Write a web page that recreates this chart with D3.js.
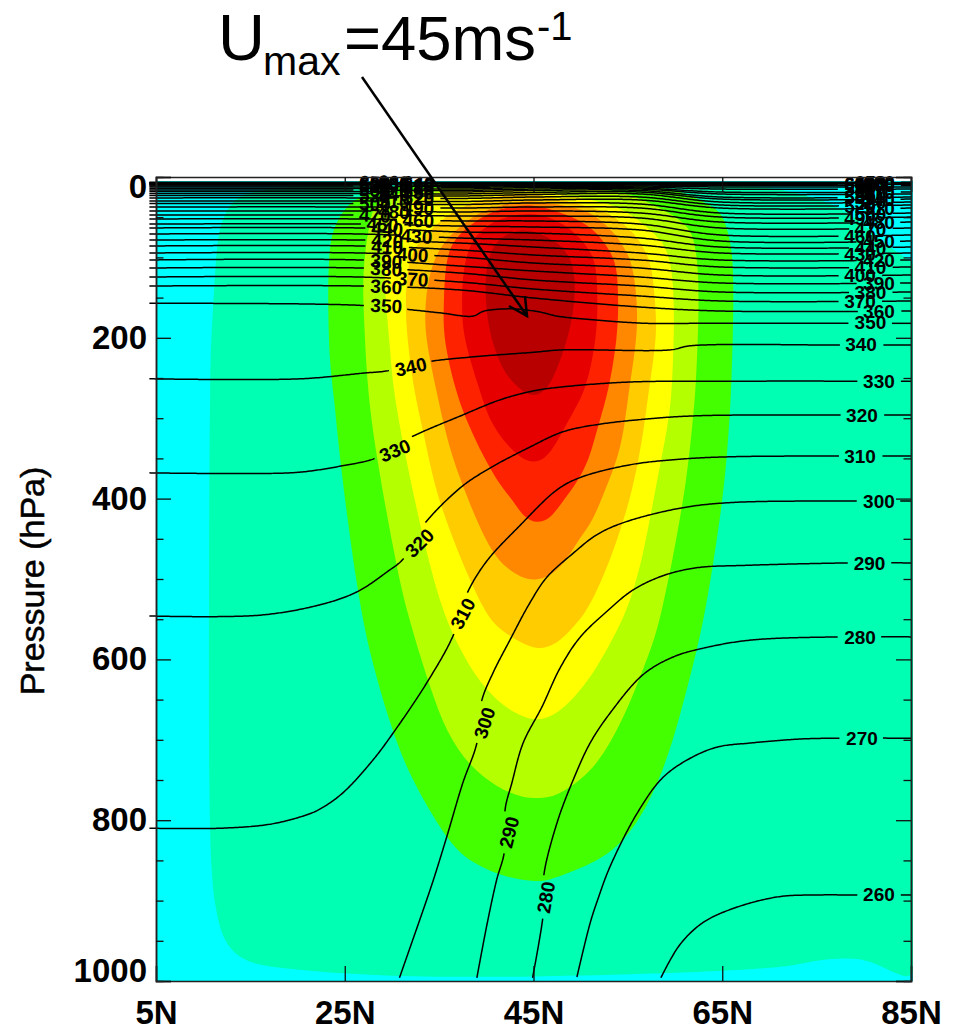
<!DOCTYPE html>
<html>
<head>
<meta charset="utf-8">
<script src="https://cdn.jsdelivr.net/npm/d3@7"></script>
<style>
body { margin: 0; background: #fff; }
text { font-family: "Liberation Sans", Arial, sans-serif; fill: #000; }
</style>
</head>
<body>
<div id="chart"></div>
<script>
// ticks
var latTicks = [5, 25, 45, 65, 85];
var pressureTicks = [0, 200, 400, 600, 800, 1000];
var pressureMinor = [50, 100, 150, 250, 300, 350, 450, 500, 550, 650, 700, 750, 850, 900, 950];

// wind speed bands, [lat, hPa] outlines
var bandColors = ["#00ffb2", "#44ff00", "#b4ff00", "#ffff00", "#ffcc00", "#ff8800", "#ff2200", "#e60000", "#b80000"];
var band1 = [[25.6,6],[20.3,11],[16.2,16],[13.9,22],[12.5,39],[11.6,68],[11.3,109],[11,172],[10.7,234],[10.6,526],[10.6,775],[10.9,874],[11.3,908],[11.8,937],[12.8,961],[14.6,976],[17.1,983],[24.8,991],[32.7,995],[45,995],[58.4,991],[71.9,984],[74.3,975],[78.2,971],[80.4,974],[82.1,983],[84.1,995],[86.5,997],[86.5,600],[86.5,125],[85.2,106],[83.1,91],[80.7,66],[77.3,35],[72.2,16],[64.8,6]];
var band2 = [[30.9,6],[26.9,22],[25.2,35],[23.6,66],[23.3,103],[23.2,153],[23.4,234],[23.8,265],[24.5,356],[26.3,514],[27.7,597],[30,688],[31.9,746],[35.8,825],[38.3,853],[42.2,872],[45,876],[46.4,876],[49.6,862],[53.4,841],[56.3,800],[58.7,741],[60.5,672],[62.4,585],[63.2,539],[64,485],[65,405],[65.5,348],[66,265],[66.3,116],[65.8,75],[65,45],[63.7,35],[61.3,20],[56.6,6]];
var band3 = [[33,9],[28.2,29],[27.7,53],[26.8,116],[27.1,190],[27.4,265],[28.4,352],[30.3,473],[31.5,539],[34,634],[35.8,692],[38.3,734],[41.1,759],[43.6,771],[45,773],[46.8,772],[48.6,762],[51.7,734],[54.5,675],[56.6,613],[57.9,572],[58.6,539],[59.8,473],[61.3,373],[61.9,299],[62.2,265],[62.6,149],[62.3,91],[61.6,62],[59.5,45],[56.3,26],[52.1,11]];
var band4 = [[35.1,16],[30.9,35],[29.6,53],[29.1,95],[29.3,153],[29.8,211],[30.1,265],[31.7,364],[33.5,460],[35.3,539],[37.2,588],[39.3,629],[41.8,659],[44.3,674],[46,676],[48.1,663],[50.7,629],[52.8,588],[55,539],[56.6,473],[57.9,389],[59.3,306],[59.7,265],[60,157],[59.5,95],[58.2,75],[57,62],[55.2,45],[52.8,32],[47.8,20],[41.4,14]];
var band5 = [[42.5,20],[38.3,32],[36.2,45],[34,66],[31.7,95],[31.4,157],[31.6,199],[32.3,265],[33.3,315],[34.2,368],[35.3,414],[37.2,473],[39.7,539],[41.1,560],[43.3,577],[45.4,589],[47.5,581],[49.2,560],[50.8,539],[53.3,473],[55.6,389],[56.8,306],[57.2,265],[58.1,199],[57.9,157],[57.6,116],[57,95],[56,75],[54.9,62],[53.1,45],[51,37],[45.7,21]];
var band6 = [[44.1,27],[41.1,37],[39,45],[37.2,62],[35.3,82],[34,116],[33.5,157],[33.5,199],[34.7,265],[35.6,315],[36.9,368],[40.1,460],[42.2,489],[45.2,507],[48.1,486],[49.9,448],[51.2,430],[52.6,389],[54,348],[54.7,306],[55.1,265],[56,199],[56,157],[55.6,116],[55,95],[53.9,75],[52.9,62],[51.3,45],[49.2,37]];
var band7 = [[45,34],[42.2,37],[40.1,45],[38,62],[36.2,82],[35.6,116],[35.5,157],[35.4,199],[36.7,265],[38,306],[39.7,348],[41.3,381],[42.8,402],[44,424],[45.4,431],[46.8,425],[48.2,402],[49.6,380],[50.9,352],[51.8,311],[53,265],[53.9,199],[54,157],[53.9,116],[53.3,95],[52.1,75],[51,62],[49.2,50],[47.1,41]];
var band8 = [[44.6,44],[41.8,50],[39.7,62],[38.3,82],[37.5,116],[37.4,157],[37.5,199],[39.3,265],[40.4,306],[42.5,338],[44,352],[45,355],[46.2,351],[47.4,332],[49,296],[50.6,265],[51.7,199],[51.8,157],[51.7,116],[51.2,95],[49.9,75],[48.6,62],[46.8,50]];
var band9 = [[45,66],[42.8,66],[40.7,82],[39.9,116],[39.9,157],[40.4,199],[41.7,240],[43,258],[44.3,271],[45.6,272],[46.8,258],[47.7,232],[48.7,199],[49.4,157],[49.4,116],[48.6,95],[47.5,80]];

// potential temperature lines, [lat, hPa]
var theta260 = [[58.5,996],[60.5,955],[63,927],[66.6,908],[71.1,895],[75,893],[79.1,893],[85,893]];
var theta270 = [[49.6,995],[51,928],[51.8,899],[53.1,858],[56,791],[58.7,747],[61.6,723],[64.5,709],[68,704],[73.3,699],[77.5,698],[85,698]];
var theta280 = [[44.9,996],[46,920],[46.1,894],[46.1,868],[47.5,803],[49.2,750],[51,704],[53.1,667],[56.6,619],[59.8,597],[63,586],[68,576],[77.5,572],[85,572]];
var theta290 = [[39,996],[40.1,928],[41.1,874],[41.9,840],[42,786],[42.7,754],[43.9,704],[45.9,659],[47.8,611],[49.9,573],[52.9,539],[55.5,514],[58.7,496],[62.3,486],[67.6,483],[78.5,480],[85,480]];
var theta300 = [[30.8,996],[32.2,949],[33.3,912],[34.4,874],[35.8,821],[37.5,754],[39,704],[39.5,652],[40.7,617],[42.5,576],[44.6,530],[46.4,498],[49.2,468],[51.7,445],[54.5,430],[60.5,412],[65.8,405],[79.4,403],[85,403]];
var theta310 = [[4.3,810],[11.8,810],[17.1,805],[20.8,794],[22.4,786],[24.8,766],[28,725],[30.1,692],[33.7,629],[36.5,570],[37.8,522],[39.9,480],[43.6,433],[47.5,389],[49.9,374],[55.2,358],[60.5,351],[65.8,348],[77.5,347],[85,347]];
var theta320 = [[4.3,546],[16,545],[22.4,532],[26.3,516],[29.5,491],[31.2,475],[33.2,435],[37.2,387],[40.1,364],[44.6,336],[48.1,317],[51.7,308],[57,301],[62.3,297],[77.8,296],[85,296]];
var theta330 = [[4.3,368],[19.2,368],[22.4,364],[24.8,359],[28.2,350],[31.6,326],[37.5,296],[41.5,277],[45,266],[48.1,261],[55.2,255],[64.8,254],[85,254]];
var theta340 = [[4.3,251],[20.3,251],[26.9,244],[29.6,241],[33.7,230],[38.3,224],[45,218],[48.1,215],[59.5,215],[61.6,210],[77.3,209],[85,209]];
var theta350 = [[4.3,157],[21.3,158],[27.2,160],[31.1,164],[35.1,169],[38.6,173],[39.7,167],[42.8,164],[45.7,168],[47.5,173],[51.7,178],[57,182],[62.7,182],[85,182]];

var lowerLevels = [260, 270, 280, 290, 300, 310, 320, 330, 340, 350];
var lowerLines = [theta260, theta270, theta280, theta290, theta300, theta310, theta320, theta330, theta340, theta350];
// value, lat, hPa, angle
var lowerLabels = [
  [260,81.6,892,0],[270,79.8,698,0],[280,79.6,572,0],[290,80.6,480,0],[300,81.6,403,0],
  [310,79.6,347,0],[320,79.8,296,0],[330,81.6,254,0],[340,79.7,208,0],[350,80.7,181,0],
  [280,46.3,896,-80],[290,42.4,815,-76],[300,39.8,679,-72],[310,37.5,543,-62],
  [320,32.9,455,-45],[330,30.3,340,-22],[340,32,236,-12],[350,29.4,160,3]
];

// the crowded levels near the top share the same latitude columns
var upperLats = [4.3, 26.6, 37.2, 45, 56.3, 64.8, 85];
var upperLevels = [360,370,380,390,400,410,420,430,440,450,460,470,480,490,500,510,520,530,540,550,560,570,580,590,600,610,620,630,640,650,660];
var upperPressures = [
  [135.6,135.6,140.5,150.5,161.7,166.7,166.7],
  [124.4,124.4,130.6,139.3,148,154.2,154.2],
  [113.2,113.2,119.4,128.1,135.6,143,143],
  [103.2,103.2,110.7,116.9,124.4,131.8,131.8],
  [94.5,94.5,99.5,107,113.2,121.9,121.9],
  [85.8,85.8,90.8,97,103.2,111.9,111.9],
  [78.4,78.4,82.1,87.1,94.5,103.2,103.2],
  [70.9,70.9,75.9,78.4,84.6,94.5,94.5],
  [63.4,63.4,68.4,69.7,75.9,87.1,87.1],
  [58.5,58.5,61,62.2,65.9,79.6,79.6],
  [52.2,52.2,54.7,54.7,58.5,72.1,72.1],
  [47.3,47.3,48.5,48.5,51,63.4,63.4],
  [42.3,42.3,43.5,42.3,44.8,56,56],
  [37.3,37.3,38.6,37.3,38.6,49.8,49.8],
  [33,33,34.2,32.3,33.6,44.8,44.8],
  [29.9,29.9,30.5,28.6,28.6,38.6,38.6],
  [26,26,26.7,24.9,24.9,34.8,34.8],
  [23,23,23.6,21.8,21.1,31.1,31.1],
  [20.5,20.5,21.1,19.3,18.7,27.4,27.4],
  [18,18,18.7,16.8,16.8,24.9,24.9],
  [16.2,16.2,16.8,15,15,21.1,21.1],
  [14.3,14.3,15,13.1,13.7,18.7,18.7],
  [12.4,12.4,13.1,11.8,12.4,15,15],
  [11.2,11.2,11.8,10.6,11.2,12.4,12.4],
  [10,10,10.6,10,10,10.6,10.6],
  [9.3,9.3,9.6,9.3,9.3,9.3,9.3],
  [8.7,8.7,8.7,8.7,8.7,8.7,8.7],
  [8.1,8.1,8.1,8.1,8.1,8.1,8.1],
  [7.5,7.5,7.5,7.5,7.5,7.5,7.5],
  [7,7,7,7,7,7,7],
  [6.5,6.5,6.5,6.5,6.5,6.5,6.5]
];
var upperLeftLabelLats = [29.4,32.2,29.4,29.4,32.2,29.5,29.5,32.6,29.5,29,32.8,28.2,30.2,32.8,28.2,30.2,32.8,28.2,30.2,32.8,28.2,30.2,32.8,28.2,30.2,32.8,28.2,30.2,32.8,28.2,30.2];
var upperRightLabelLats = [81.6, 79.6, 80.7];

var width = 953, height = 1030;
var left = 156, right = 911, top_ = 177, bottom = 981;

var svg = d3.select("#chart").append("svg")
  .attr("width", width).attr("height", height)
  .style("display", "block");

var x = d3.scaleLinear().domain([5, 85]).range([left, right]);
var y = d3.scaleLinear().domain([0, 1000]).range([top_, bottom]);

// colour fill
svg.append("clipPath").attr("id", "plot").append("rect")
  .attr("x", left).attr("y", 181).attr("width", 757).attr("height", bottom - 181);

var fills = svg.append("g").attr("clip-path", "url(#plot)");
fills.append("rect").attr("x", left).attr("y", 181)
  .attr("width", 757).attr("height", bottom - 181).attr("fill", "#00ffff");

var outline = d3.line().x(d => x(d[0])).y(d => y(d[1])).curve(d3.curveBasisClosed);
var bands = [band1, band2, band3, band4, band5, band6, band7, band8, band9];
fills.selectAll("path.band").data(bands).join("path")
  .attr("class", "band")
  .attr("d", outline)
  .attr("fill", (d, i) => bandColors[i]);

// contour lines, cut open around their labels
var allLines = lowerLevels.map((lev, i) => ({
  level: lev,
  points: lowerLines[i],
  labels: lowerLabels.filter(l => l[0] == lev).map(l => ({x: x(l[1]), y: y(l[2]), angle: l[3]}))
}));

upperLevels.forEach(function(lev, i) {
  allLines.push({
    level: lev,
    points: upperLats.map((la, j) => [la, upperPressures[i][j]]),
    labels: [],
    labelLats: [upperLeftLabelLats[i], upperRightLabelLats[i % 3]]
  });
});

var contour = d3.line().x(d => x(d[0])).y(d => y(d[1])).curve(d3.curveCatmullRom.alpha(0.5));
var pixelLine = d3.line();
var lineG = svg.append("g").attr("fill", "none").attr("stroke", "#000").attr("stroke-width", 1.5);
var labelG = svg.append("g");
var gap = 21;

allLines.forEach(function(line) {
  var probe = lineG.append("path").attr("d", contour(line.points));
  var node = probe.node();
  var len = node.getTotalLength();
  var samples = [];
  for (var s = 0; s <= len; s += 1.5) {
    var pt = node.getPointAtLength(s);
    samples.push([pt.x, pt.y]);
  }
  var last = node.getPointAtLength(len);
  samples.push([last.x, last.y]);
  probe.remove();

  if (line.labelLats) {
    line.labelLats.forEach(function(la, k) {
      var px = x(la);
      var near = d3.least(samples, d => Math.abs(d[0] - px));
      line.labels.push({x: px, y: near[1], angle: k == 0 ? 3 : 0});
    });
  }

  var pieces = [], cur = [];
  samples.forEach(function(p) {
    var hidden = line.labels.some(l => Math.hypot(p[0] - l.x, p[1] - l.y) < gap);
    if (hidden) {
      if (cur.length > 1) pieces.push(cur);
      cur = [];
    } else {
      cur.push(p);
    }
  });
  if (cur.length > 1) pieces.push(cur);

  lineG.selectAll(null).data(pieces).join("path").attr("d", pixelLine);

  labelG.selectAll(null).data(line.labels).join("text")
    .attr("transform", d => "translate(" + d.x + "," + d.y + ") rotate(" + d.angle + ")")
    .attr("text-anchor", "middle")
    .attr("dy", "0.36em")
    .style("font-size", "19px")
    .style("font-weight", "bold")
    .text(line.level);
});

// axes
function styleAxis(g) {
  g.selectAll("path.domain").attr("stroke", "#222").attr("stroke-width", 1.5);
  g.selectAll(".tick line").attr("stroke", "#111").attr("stroke-width", 1.3);
  g.selectAll(".tick text").style("font-family", '"Liberation Sans", Arial, sans-serif')
    .style("font-size", "33px").style("font-weight", "bold").attr("fill", "#000");
}

var axisBottom = d3.axisBottom(x).tickValues(latTicks).tickFormat(d => d + "N").tickSize(-15).tickPadding(20);
svg.append("g").attr("transform", "translate(0," + bottom + ")").call(axisBottom).call(styleAxis);

var axisTop = d3.axisTop(x).tickValues(latTicks).tickFormat("").tickSize(-15);
svg.append("g").attr("transform", "translate(0," + top_ + ")").call(axisTop).call(styleAxis);

var axisLeft = d3.axisLeft(y).tickValues(pressureTicks).tickFormat(d => String(d)).tickSize(-15).tickPadding(9);
var yAxis = svg.append("g").attr("transform", "translate(" + left + ",0)").call(axisLeft).call(styleAxis);
// end labels are pulled inside the axis range
yAxis.selectAll(".tick text").attr("dy", d => d == 0 ? "0.62em" : d == 1000 ? "0px" : "0.32em");

svg.append("g").attr("transform", "translate(" + left + ",0)")
  .call(d3.axisLeft(y).tickValues(pressureMinor).tickFormat("").tickSize(-7.5)).call(styleAxis);

svg.append("g").attr("transform", "translate(" + right + ",0)")
  .call(d3.axisRight(y).tickValues(pressureTicks).tickFormat("").tickSize(-15)).call(styleAxis);
svg.append("g").attr("transform", "translate(" + right + ",0)")
  .call(d3.axisRight(y).tickValues(pressureMinor).tickFormat("").tickSize(-7.5)).call(styleAxis);

svg.append("text")
  .attr("transform", "translate(44,581) rotate(-90)")
  .attr("text-anchor", "middle")
  .style("font-size", "34px")
  .style("stroke", "#000")
  .style("stroke-width", "0.5px")
  .text("Pressure (hPa)");

// title with sub and superscript
var titleParts = [
  {text: "U", tx: 218, ty: 60, size: 65},
  {text: "max", tx: 263, ty: 75, size: 41},
  {text: "=45ms", tx: 344, ty: 60, size: 63.4},
  {text: "-1", tx: 537, ty: 40, size: 40}
];
svg.selectAll("text.title").data(titleParts).join("text")
  .attr("class", "title")
  .attr("x", d => d.tx).attr("y", d => d.ty)
  .style("font-size", d => d.size + "px")
  .text(d => d.text);

// arrow to the jet maximum
var arrow = svg.append("g").attr("fill", "none").attr("stroke", "#000").attr("stroke-width", 2.5);
arrow.append("path").attr("d", "M362,77L527,316");
arrow.append("path").attr("d", "M525,296L527,316L509,306");
</script>
</body>
</html>
